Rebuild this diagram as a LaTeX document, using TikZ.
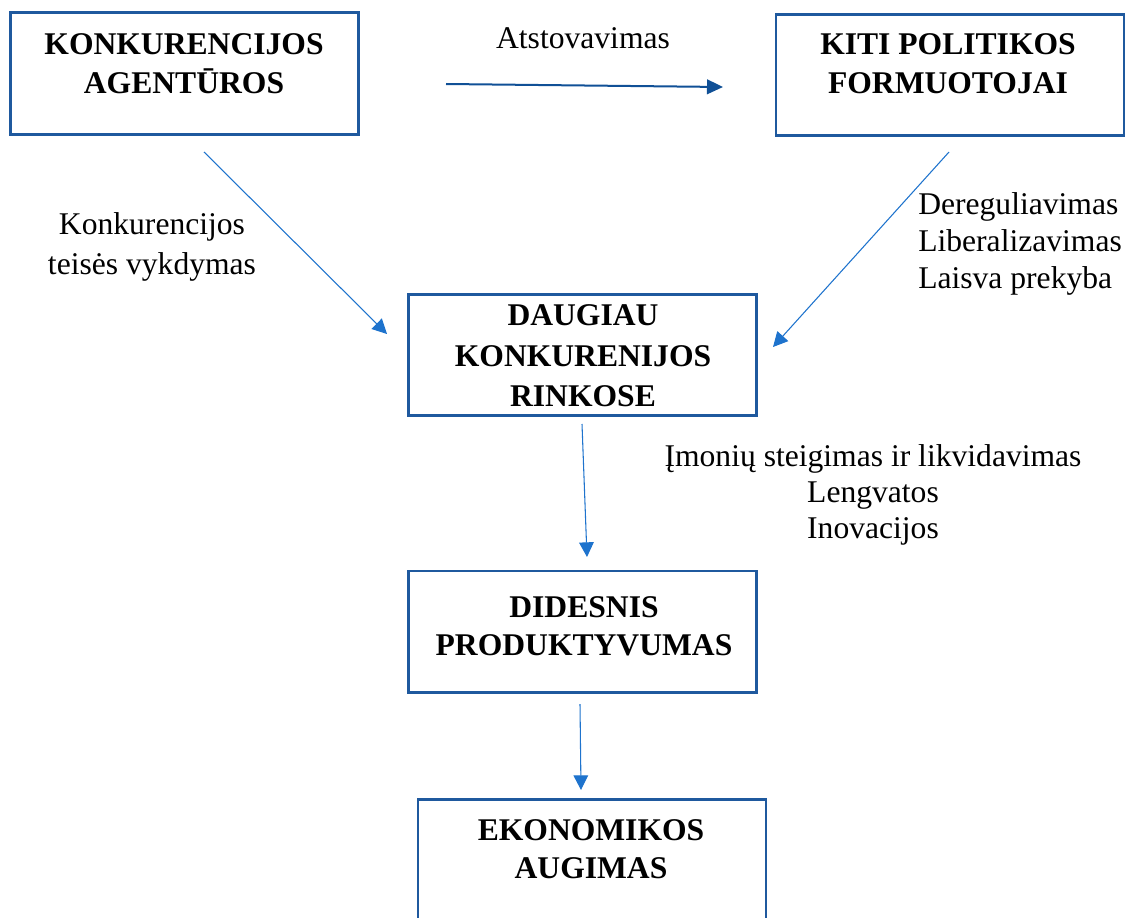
\documentclass[tikz,border=0pt]{standalone}
\usepackage{fontspec}
\setmainfont{Liberation Serif}
\usetikzlibrary{arrows.meta}
\definecolor{boxblue}{RGB}{31,89,158}
\definecolor{arrdark}{RGB}{16,80,150}
\definecolor{arrlight}{RGB}{30,115,205}
\begin{document}
\begin{tikzpicture}[x=0.75pt,y=-0.75pt,
  box/.style={draw=boxblue, line width=2pt, rectangle, inner sep=0pt,
    minimum width=261pt, minimum height=91pt},
  btxt/.style={inner sep=0pt, align=center, font=\fontsize{23.7}{29.5}\selectfont\bfseries},
  ltxt/.style={inner sep=0pt, font=\fontsize{23.7}{28}\selectfont},
  flowdark/.style={draw=arrdark, line width=1.5pt, -{Triangle[length=12pt,width=11pt]}},
  flowlight/.style={draw=arrlight, line width=0.8pt, -{Triangle[length=11pt,width=11pt]}}
]
\useasboundingbox (0,0) rectangle (1127,917);
\clip (0,0) rectangle (1127,917);

% boxes
\node[box] (b1) at (184.5,73.5) {};
\node[box] (b2) at (950,75) {};
\node[box] (b3) at (582.5,355) {};
\node[box] (b4) at (582.5,631.5) {};
\node[box] (b5) at (592,860) {};

% box texts
\node[btxt] (t1) at (184,63.5) {KONKURENCIJOS\\AGENTŪROS};
\node[btxt] (t2) at (948,64) {KITI POLITIKOS\\FORMUOTOJAI};
\node[btxt, font=\fontsize{23.7}{30.5}\selectfont\bfseries] (t3) at (583,356) {DAUGIAU\\KONKURENIJOS\\RINKOSE};
\node[btxt, font=\fontsize{23.7}{28.5}\selectfont\bfseries] (t4) at (584,626) {DIDESNIS\\PRODUKTYVUMAS};
\node[btxt, font=\fontsize{23.7}{28.5}\selectfont\bfseries] (t5) at (591,849) {EKONOMIKOS\\AUGIMAS};

% labels
\node[ltxt] (l1) at (583,38.5) {Atstovavimas};
\node[ltxt, align=center, font=\fontsize{23.7}{30}\selectfont] (l2) at (152,247) {Konkurencijos\\teisės vykdymas};
\node[ltxt, align=left, anchor=west] (l3) at (918,244) {Dereguliavimas\\Liberalizavimas\\Laisva prekyba};
\node[ltxt, align=center, font=\fontsize{23.7}{27}\selectfont] (l4) at (873,495) {Įmonių steigimas ir likvidavimas\\Lengvatos\\Inovacijos};

% connector end points
\coordinate (a1s) at (446,84);   \coordinate (a1e) at (723,87);
\coordinate (a2s) at (204,152);  \coordinate (a2e) at (387,334);
\coordinate (a3s) at (949,152);  \coordinate (a3e) at (773,347);
\coordinate (a4s) at (582,424);  \coordinate (a4e) at (587,557);
\coordinate (a5s) at (580,704);  \coordinate (a5e) at (581,790);

\draw[flowdark] (a1s) -- (a1e);
\draw[flowlight] (a2s) -- (a2e);
\draw[flowlight] (a3s) -- (a3e);
\draw[flowlight] (a4s) -- (a4e);
\draw[flowlight] (a5s) -- (a5e);
\end{tikzpicture}
\end{document}
